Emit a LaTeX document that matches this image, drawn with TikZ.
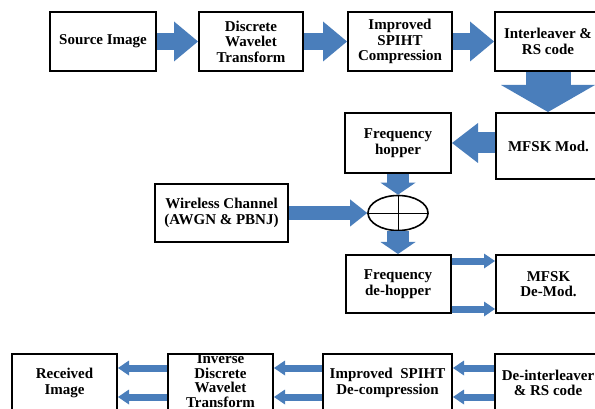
\documentclass[tikz,border=0pt]{standalone}
\usepackage{fontspec}
\setmainfont{Liberation Serif}
\usetikzlibrary{arrows.meta,shapes.geometric}
\definecolor{arrowblue}{RGB}{74,126,187}
\tikzset{
  blk/.style={draw, line width=2pt, align=center, inner sep=0pt,
    font=\fontsize{15}{15.5}\selectfont\bfseries},
  bigarrow/.style n args={3}{arrowblue, line width=#1,
    -{Triangle[width=#2,length=#3,line width=0pt]}},
  thinarrow/.style={bigarrow={7pt}{15pt}{11pt}}
}
\begin{document}
\begin{tikzpicture}[x=1pt,y=-1pt]
\clip (0,0) rectangle (595,409);

% transmitter
\node[blk, minimum width=106pt, minimum height=59pt] (src) at (103,41.5) {Source Image};
\node[blk, minimum width=104pt, minimum height=59pt] (dwt) at (251,41.5) {Discrete\\Wavelet\\Transform};
\node[blk, minimum width=104pt, minimum height=59pt] (spiht) at (400,41.5) {Improved\\SPIHT\\Compression};
\node[blk, minimum width=106pt, minimum height=59pt] (intl) at (548,41.5) {Interleaver \&\\RS code};
\node[blk, minimum width=105pt, minimum height=66pt] (mod) at (548.5,146) {MFSK Mod.};
\node[blk, minimum width=106pt, minimum height=60pt] (hop) at (398,143) {Frequency\\hopper};

\draw[bigarrow={17pt}{40pt}{24pt}] (src) -- (dwt);
\draw[bigarrow={17pt}{40pt}{24pt}] (dwt) -- (spiht);
\draw[bigarrow={17pt}{40pt}{24pt}] (spiht) -- (intl);
\draw[bigarrow={45pt}{94pt}{27pt}] (intl) -- (intl |- mod.north);
\draw[bigarrow={21pt}{40pt}{26pt}] (mod.west |- hop) -- (hop);

% channel
\node[draw, ellipse, line width=1.6pt, minimum width=60pt, minimum height=35pt, inner sep=0pt] (sum) at (398,213) {};
\draw[line width=0.6pt] (sum.north) -- (sum.south) (sum.west) -- (sum.east);
\node[blk, minimum width=133pt, minimum height=58pt] (chan) at (221.5,213) {Wireless Channel\\(AWGN \& PBNJ)};

\draw[bigarrow={22pt}{35pt}{12pt}] (hop) -- (sum);
\draw[bigarrow={14pt}{27pt}{17pt}] (chan) -- (sum);

% receiver
\node[blk, minimum width=105pt, minimum height=58pt] (dehop) at (398,284) {Frequency\\de-hopper};
\node[blk, minimum width=105pt, minimum height=58pt] (demod) at (548.5,284) {MFSK\\De-Mod.};

\draw[bigarrow={22pt}{35pt}{12pt}] (sum) -- (dehop);
\draw[thinarrow] ([yshift=-7pt]dehop.north east) -- ([yshift=-7pt]demod.north west);
\draw[thinarrow] ([yshift=5pt]dehop.south east) -- ([yshift=5pt]demod.south west);

\node[blk, minimum width=105pt, minimum height=58pt] (recv) at (64.5,383) {Received\\Image};
\node[blk, minimum width=105pt, minimum height=58pt] (idwt) at (220.5,383) {};
\node[align=center, inner sep=0pt, font=\fontsize{15}{14.5}\selectfont\bfseries] (idwttext) at (220.5,380.5) {Inverse\\Discrete\\Wavelet\\Transform};
\node[blk, minimum width=129pt, minimum height=58pt] (despiht) at (387.5,383) {Improved~~SPIHT\\De-compression};
\node[blk, minimum width=106pt, minimum height=58pt] (deint) at (548,383) {De-interleaver\\\& RS code};

\foreach \a/\b in {deint/despiht, despiht/idwt, idwt/recv} {
  \draw[thinarrow] ([yshift=-15pt]\a.north west) -- ([yshift=-15pt]\b.north east);
  \draw[thinarrow] ([yshift=-44pt]\a.north west) -- ([yshift=-44pt]\b.north east);
}

\end{tikzpicture}
\end{document}
